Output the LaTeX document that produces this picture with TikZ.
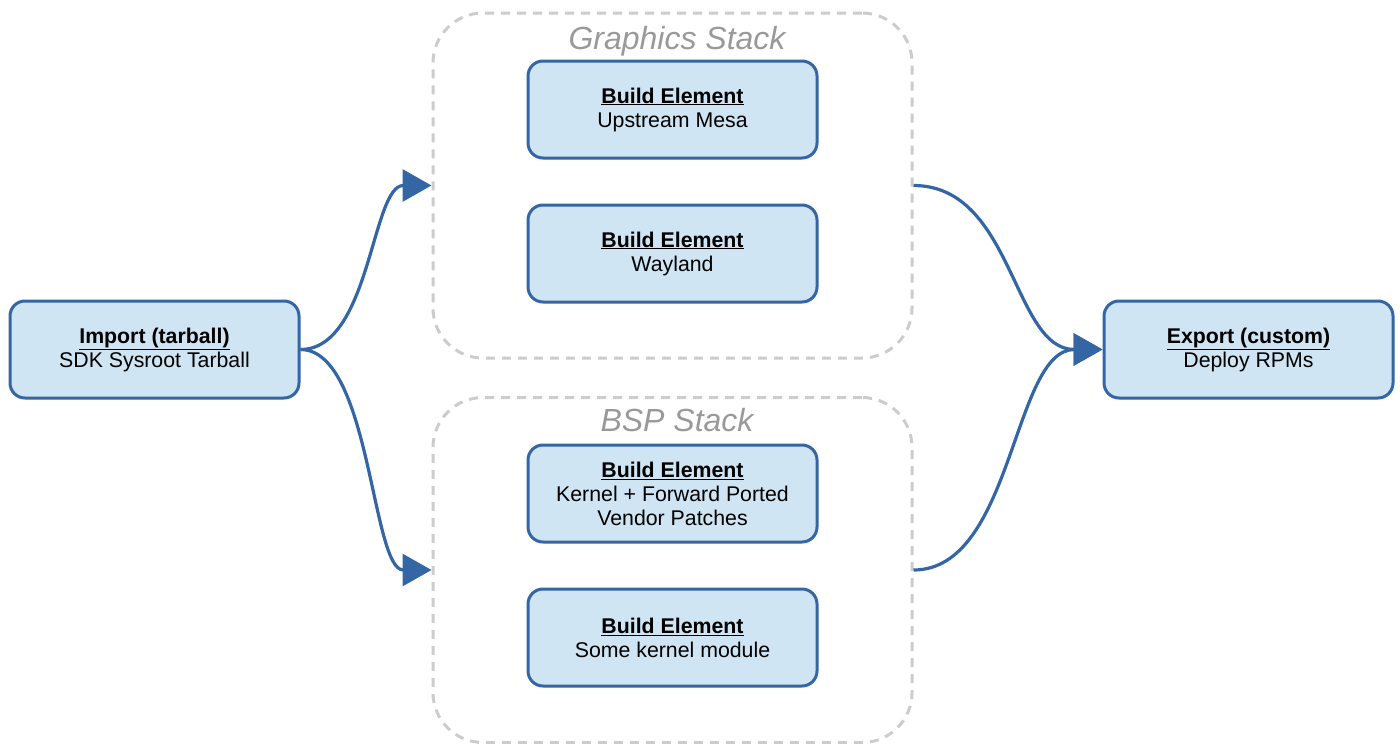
\documentclass[tikz,border=0pt]{standalone}
\usepackage{fontspec}
\setmainfont{Liberation Sans}
\usetikzlibrary{arrows.meta}
\definecolor{boxfill}{HTML}{CFE5F3}
\definecolor{boxline}{HTML}{3465A4}
\definecolor{grp}{HTML}{CCCCCC}
\definecolor{grptext}{HTML}{999999}
\tikzset{
  elem/.style={draw=boxline, fill=boxfill, line width=3pt, rounded corners=15pt,
    minimum width=289pt, minimum height=97pt, align=center, inner sep=0pt,
    font=\fontsize{21.3}{24}\selectfont},
  grpbox/.style={draw=grp, line width=3pt, dash pattern=on 9pt off 7pt, rounded corners=50pt,
    minimum width=479pt, minimum height=345pt, inner sep=0pt},
  grplabel/.style={text=grptext, font=\fontsize{32}{36}\selectfont\itshape, inner sep=0pt},
  conn/.style={draw=boxline, line width=3.2pt, -{Triangle[length=29pt,width=32pt]}}
}
\newcommand{\ttl}[1]{\underline{\textbf{#1}}}
\begin{document}
\begin{tikzpicture}[x=1pt,y=-1pt]
\useasboundingbox (0,0) rectangle (1400,744);
\node[grpbox] (gfx) at (672.5,185.5) {};
\node[grpbox] (bsp) at (672.5,570) {};
\node[grplabel] (gfxl) at (677,41) {Graphics Stack};
\node[grplabel] (bspl) at (677,420) {BSP Stack};
\node[elem] (imp) at (154.5,349.5) {\ttl{Import (tarball)}\\SDK Sysroot Tarball};
\node[elem] (mesa) at (672.5,109.5) {\ttl{Build Element}\\Upstream Mesa};
\node[elem] (way) at (672.5,253.5) {\ttl{Build Element}\\Wayland};
\node[elem] (kern) at (672.5,493.5) {\ttl{Build Element}\\Kernel + Forward Ported\\Vendor Patches};
\node[elem] (mod) at (672.5,637.5) {\ttl{Build Element}\\Some kernel module};
\node[elem] (exp) at (1248.5,349.5) {\ttl{Export (custom)}\\Deploy RPMs};
\draw[conn] (imp.east) .. controls +(70,0) and +(-60,0) .. (gfx.west);
\draw[conn] (imp.east) .. controls +(70,0) and +(-60,0) .. (bsp.west);
\draw[conn] (gfx.east) .. controls +(100,0) and +(-90,0) .. (exp.west);
\draw[conn] (bsp.east) .. controls +(100,0) and +(-90,0) .. (exp.west);
\end{tikzpicture}
\end{document}
